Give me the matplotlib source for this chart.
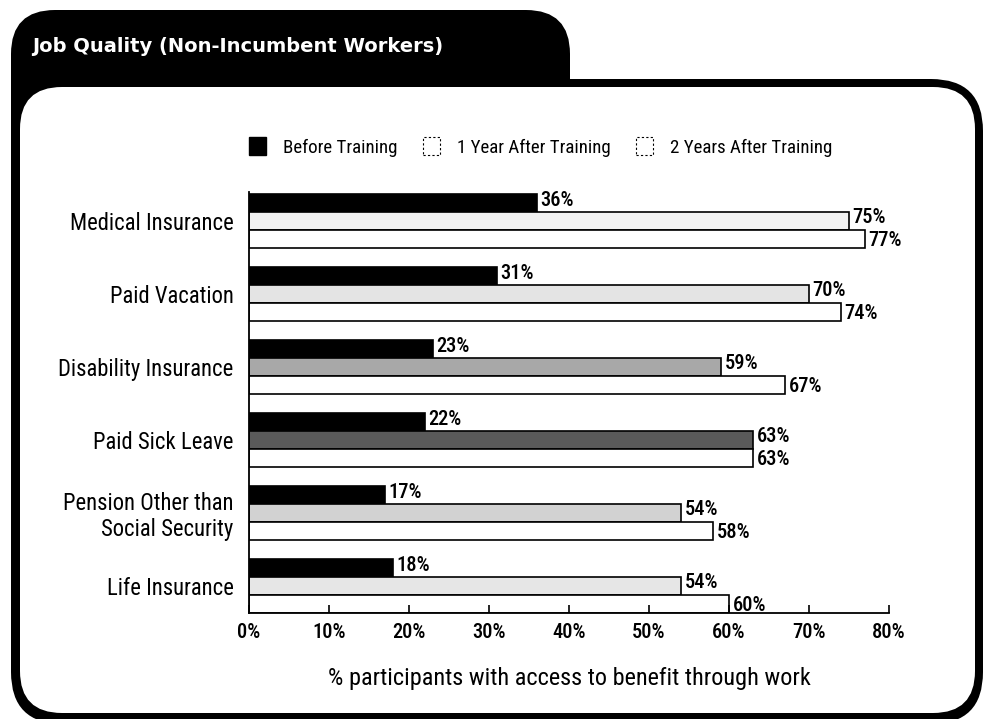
import matplotlib
matplotlib.use("Agg")
import matplotlib.pyplot as plt
from matplotlib.patches import FancyBboxPatch, Patch
import numpy as np

categories = ["Medical Insurance", "Paid Vacation", "Disability Insurance",
              "Paid Sick Leave", "Pension Other than\nSocial Security", "Life Insurance"]
before = [36, 31, 23, 22, 17, 18]
year1 = [75, 70, 59, 63, 54, 54]
year2 = [77, 74, 67, 63, 58, 60]
series_names = ["Before Training", "1 Year After Training", "2 Years After Training"]
xticks = [0, 10, 20, 30, 40, 50, 60, 70, 80]
xlabel = "% participants with access to benefit through work"
title = "Job Quality (Non-Incumbent Workers)"

# styles (scan appearance of the 1-year bars)
year1_colors = ["#f2f2f2", "#e4e4e4", "#a8a8a8", "#5a5a5a", "#d2d2d2", "#e6e6e6"]

FONT = ["Roboto Condensed", "IBM Plex Sans Condensed", "DejaVu Sans"]
plt.rcParams["font.family"] = FONT

W, H = 986, 719
fig = plt.figure(figsize=(W / 100, H / 100), dpi=100)

# background frame axes in pixel units
bg = fig.add_axes([0, 0, 1, 1])
bg.set_xlim(0, W)
bg.set_ylim(H, 0)
bg.axis("off")

tab = FancyBboxPatch((11, 10), 559, 300, boxstyle="round,pad=0,rounding_size=44",
                     fc="black", ec="none")
frame = FancyBboxPatch((11, 79), 972, 645, boxstyle="round,pad=0,rounding_size=52",
                       fc="black", ec="none")
inner = FancyBboxPatch((20, 87), 955, 626, boxstyle="round,pad=0,rounding_size=42",
                       fc="white", ec="none")
for p in (tab, frame, inner):
    bg.add_patch(p)
bg.text(32, 47, title, color="white", fontsize=14, fontweight="bold",
        family=["DejaVu Sans"], va="center", ha="left")

# chart axes
x0, x1 = 249, 889
ylo, yhi = -0.4, 5.375
step = 73.0
top_px = 221 - 0.4 * step
bot_px = 221 + 5.375 * step
ax = fig.add_axes([x0 / W, 1 - bot_px / H, (x1 - x0) / W, (bot_px - top_px) / H])
ax.set_xlim(0, 80)
ax.set_ylim(yhi, ylo)
ax.patch.set_alpha(0)

y = np.arange(len(categories))
h = 0.25
lw = 1.2
ax.barh(y - h, before, height=h, color="black", edgecolor="black", linewidth=lw)
ax.barh(y, year1, height=h, color=year1_colors, edgecolor="black", linewidth=lw)
ax.barh(y + h, year2, height=h, color="white", edgecolor="black", linewidth=lw)

vfs = 14.8
for yy, vals, dy in ((y - h, before, -0.03), (y, year1, -0.05), (y + h, year2, 0.015)):
    for yi, v in zip(yy, vals):
        ax.text(v + 0.45, yi + dy, f"{v}%", va="center", ha="left", fontsize=vfs,
                fontweight="medium")

ax.set_yticks(y)
ax.set_yticklabels(categories, fontsize=16.3, linespacing=1.12)
ax.tick_params(axis="y", length=0, pad=11)
ax.set_xticks(xticks)
ax.set_xticklabels([f"{t}%" for t in xticks], fontsize=14.8, fontweight="medium")
ax.tick_params(axis="x", direction="in", length=6, width=1.2, pad=7)
for s in ("top", "right"):
    ax.spines[s].set_visible(False)
for s in ("left", "bottom"):
    ax.spines[s].set_linewidth(1.3)
ax.set_xlabel(xlabel, fontsize=17.5, labelpad=18)

handles = [Patch(fc="black", ec="black"),
           Patch(fc="white", ec="black", ls=(0, (2, 2)), lw=0.8),
           Patch(fc="white", ec="black", ls=(0, (2, 2)), lw=0.8)]
leg = fig.legend(handles, series_names, ncol=3, frameon=False, fontsize=13.6,
                 loc="center left", bbox_to_anchor=(249 / W, 1 - 147 / H),
                 handlelength=0.9, handleheight=1.1, handletextpad=0.9,
                 columnspacing=1.35, borderaxespad=0, borderpad=0)

fig.savefig("out.png", dpi=100)
